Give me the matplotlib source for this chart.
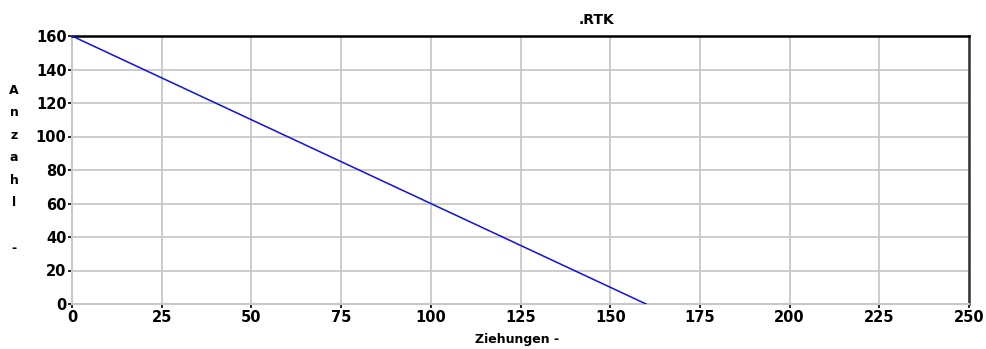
import matplotlib
matplotlib.use("Agg")
import matplotlib.pyplot as plt

# data
ziehungen = [0, 160]
anzahl = [160, 0]
x_ticks = [0, 25, 50, 75, 100, 125, 150, 175, 200, 225, 250]
y_ticks = [0, 20, 40, 60, 80, 100, 120, 140, 160]
ylabel_chars = ["A", "n", "z", "a", "h", "l", "", "-"]

GRID = "#c8c8c8"
INK = "#000000"

fig = plt.figure(figsize=(9.86, 3.49), dpi=100, facecolor="white")
ax = fig.add_axes([72 / 986, 1 - 304 / 349, (969 - 72) / 986, (304 - 36) / 349])

ax.plot(ziehungen, anzahl, color="#1010e0", linewidth=1.1, zorder=3)

ax.set_xlim(0, 250)
ax.set_ylim(0, 160)
ax.set_xticks(x_ticks)
ax.set_yticks(y_ticks)
ax.grid(True, color=GRID, linewidth=1.3, zorder=0)
ax.set_axisbelow(True)

ax.tick_params(axis="both", length=3, width=1.2, color=INK, pad=1,
               labelsize=10.5)
for lab in ax.get_xticklabels() + ax.get_yticklabels():
    lab.set_fontweight("heavy")

ax.spines["left"].set_color(GRID)
ax.spines["left"].set_linewidth(1.5)
ax.spines["bottom"].set_color(GRID)
ax.spines["bottom"].set_linewidth(1.5)
ax.spines["top"].set_color(INK)
ax.spines["top"].set_linewidth(1.8)
ax.spines["right"].set_color("#333333")
ax.spines["right"].set_linewidth(1.8)

fig.text(597 / 986, 1 - 20 / 349, ".RTK", ha="center", va="center",
         fontsize=10, fontweight="bold")
fig.text(517 / 986, 1 - 340 / 349, "Ziehungen -", ha="center", va="center",
         fontsize=9, fontweight="bold")

# stacked vertical y label, one letter per line
for i, ch in enumerate(ylabel_chars):
    if ch:
        fig.text(14 / 986, 1 - (90 + i * 22.6) / 349, ch, ha="center",
                 va="center", fontsize=9, fontweight="bold")

fig.savefig("out.png", dpi=100, facecolor="white")
